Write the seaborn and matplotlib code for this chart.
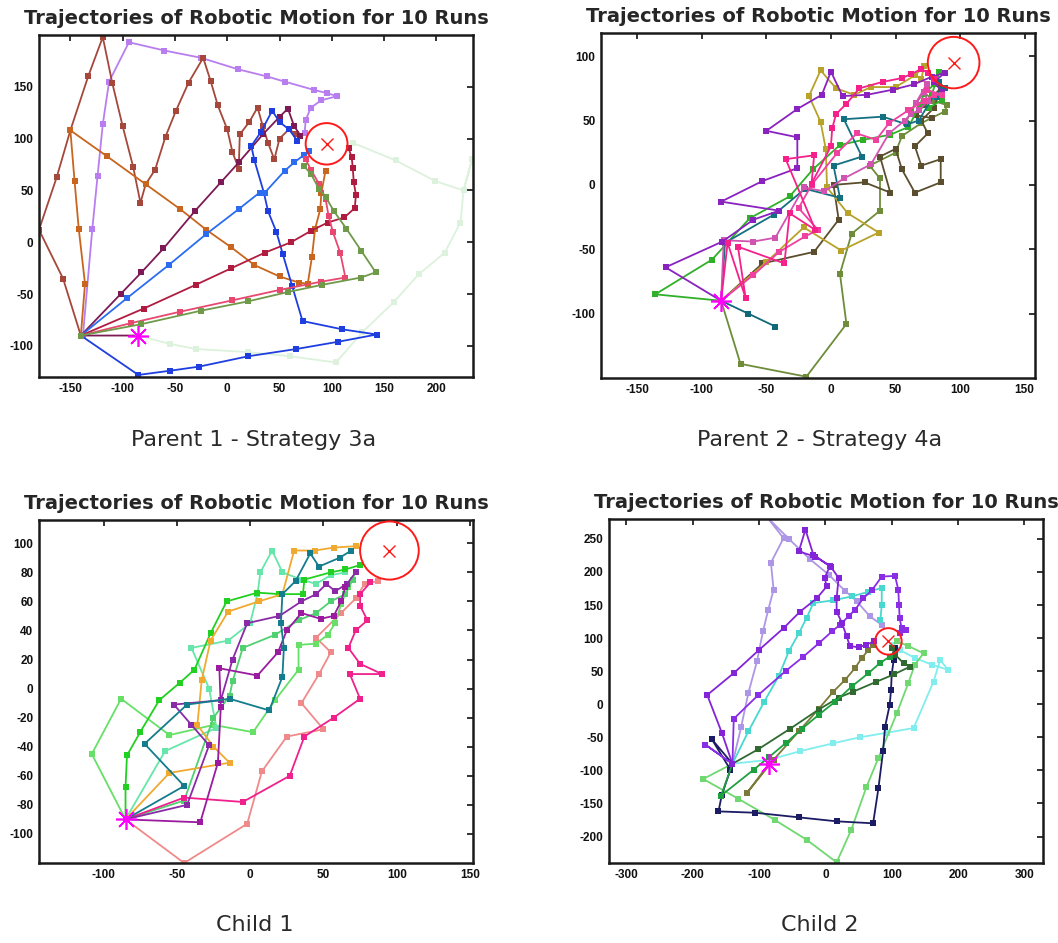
import pandas as pd
import seaborn as sns
import matplotlib.pyplot as plt
from matplotlib.patches import Circle

# ---------------- data ----------------
START = (-85, -90)
GOAL = (95, 95)
GOAL_R = 20

# Parent 1 - Strategy 3a
p1_lavender = [(-138, -90), (-129, 13), (-124, 64), (-119, 114), (-113, 155), (-94, 193), (-60, 185),
               (-25, 178), (10, 167), (38, 160), (55, 155), (83, 147), (95, 144), (105, 141), (90, 137),
               (80, 130), (75, 118), (74, 105)]
p1_brown = [(-140, -90), (-157, -35), (-180, 12), (-163, 63), (-150, 108), (-133, 160), (-119, 198),
            (-110, 154), (-100, 112), (-90, 73), (-83, 38), (-78, 56), (-69, 70), (-59, 102), (-49, 127),
            (-37, 154), (-23, 178), (-16, 156), (-9, 132), (0, 109), (5, 87), (11, 71), (12, 104),
            (21, 116), (29, 130), (34, 112), (39, 96), (45, 80), (50, 100), (59, 109), (66, 104)]
p1_orange = [(-140, -90), (-136, -40), (-142, 13), (-146, 59), (-150, 108), (-115, 83), (-78, 56),
             (-45, 32), (-20, 12), (4, -5), (26, -22), (50, -33), (69, -39), (77, -40), (81, -14),
             (84, 13), (89, 32), (90, 48), (94, 69)]
p1_maroon = [(-85, -90), (-140, -90), (-102, -50), (-82, -29), (-61, -6), (-31, 30), (-6, 58), (11, 77),
             (34, 104), (50, 121), (58, 129), (64, 112), (70, 103)]
p1_blue1 = [(-140, -90), (-96, -54), (-56, -22), (-20, 8), (11, 32), (31, 48), (36, 48), (55, 69),
            (64, 77), (73, 84), (78, 88)]
p1_blue2 = [(-140, -90), (-85, -128), (-55, -124), (-27, -120), (20, -110), (66, -103), (106, -96),
            (143, -89), (110, -84), (72, -76), (62, -42), (53, -11), (47, 10), (39, 30), (35, 48),
            (26, 79), (23, 93), (32, 106), (43, 127), (50, 116), (59, 109), (67, 98)]
p1_crimson = [(-140, -90), (-80, -64), (-30, -41), (4, -25), (36, -10), (61, 0), (80, 11), (96, 19),
              (112, 24), (122, 33), (123, 46), (121, 58), (120, 72), (119, 82), (116, 91)]
p1_pink = [(-140, -90), (-92, -78), (-45, -67), (5, -56), (50, -46), (90, -38), (113, -34), (108, -10),
           (101, 10), (97, 25), (94, 42), (88, 56), (80, 70), (75, 80)]
p1_olive = [(-140, -90), (-82, -79), (-25, -66), (20, -57), (58, -48), (91, -41), (128, -34), (142, -29),
            (128, -8), (114, 13), (102, 30), (94, 44), (88, 51), (80, 66), (73, 74)]
p1_pale = [(-85, -90), (-55, -98), (-30, -103), (20, -106), (60, -110), (104, -116), (129, -87),
           (159, -58), (183, -31), (208, -10), (223, 19), (226, 50), (234, 80), (226, 50), (199, 59),
           (161, 79), (120, 96)]
p1_runs = [p1_lavender, p1_brown, p1_orange, p1_maroon, p1_pale, p1_blue2, p1_blue1,
           p1_crimson, p1_pink, p1_olive]
p1_colors = ["#b87ef0", "#a5473a", "#c8651e", "#7d1a55", "#dcf2dc", "#1e3ee0", "#2b6cf0",
             "#b01c40", "#e84870", "#6e9a4a"]

# Parent 2 - Strategy 4a
p2_purple = [(-85, -90), (-128, -64), (-84, -44), (-60, -27), (-40, -20), (-85, -13), (-53, 3), (-26, 13),
             (-26, 37), (-50, 42), (-26, 59), (-7, 70), (0, 88), (9, 69), (28, 70), (48, 74), (64, 78),
             (78, 84), (88, 87), (80, 80), (86, 72)]
p2_green = [(-85, -90), (-136, -85), (-92, -58), (-63, -26), (-32, -9), (-14, 12), (7, 31), (25, 35),
            (46, 39), (60, 45), (69, 62), (72, 71), (80, 78), (84, 88), (78, 70), (86, 66), (76, 60)]
p2_teal_spur = [(-85, -90), (-64, -100), (-43, -110)]
p2_teal = [(-85, -90), (-82, -45), (-44, -23), (-20, -3), (7, -10), (2, 15), (24, 22), (10, 51), (40, 53),
           (59, 47), (68, 50), (80, 70), (86, 74), (82, 68), (88, 75), (84, 80)]
p2_hotpink = [(-85, -90), (-80, -45), (-66, -88), (-72, -48), (-36, -61), (-32, -22), (-12, -35),
              (-35, 20), (-13, 23), (-15, 1), (0, 30), (1, 44), (4, 55), (12, 63), (22, 75), (40, 80),
              (55, 83), (62, 86), (70, 90), (75, 87), (80, 82)]
p2_mauve = [(-85, -90), (-83, -43), (-60, -44), (-43, -41), (-21, -2), (-5, -5), (10, 5), (31, 16),
            (45, 40), (57, 50), (62, 55), (68, 58), (75, 65), (72, 72), (66, 64), (74, 78)]
p2_oliveyellow = [(-85, -90), (-50, -60), (-21, -33), (8, -51), (37, -37), (13, -22), (-3, -2),
                  (-4, 28), (-8, 49), (-17, 69), (-8, 89), (4, 75), (18, 70), (31, 76), (50, 76),
                  (65, 85), (72, 92), (70, 82)]
p2_darkolive = [(-85, -90), (-53, -61), (-13, -52), (6, -27), (2, 0), (26, 2), (46, -6), (38, 22),
                (50, 28), (55, 12), (65, -6), (85, 2), (85, 20), (70, 15), (65, 30), (75, 40), (70, 50),
                (80, 60), (85, 75), (72, 62), (66, 54), (78, 52)]
p2_olivegreen = [(-85, -90), (-70, -139), (-19, -149), (12, -108), (7, -69), (16, -38), (38, -20),
                 (38, 5), (30, 15), (50, 25), (55, 38), (70, 48), (88, 57), (90, 62), (80, 65), (72, 72),
                 (62, 58), (58, 48)]
p2_pink = [(-85, -90), (-60, -70), (-40, -52), (-20, -40), (-10, -35), (-25, -18), (-15, 0), (5, 25),
           (20, 40), (35, 35), (45, 48), (60, 58), (72, 65), (80, 70), (86, 70), (74, 74)]
p2_runs = [p2_olivegreen, p2_darkolive, p2_oliveyellow, p2_green, p2_teal_spur, p2_teal, p2_mauve,
           p2_purple, p2_pink, p2_hotpink]
p2_colors = ["#6e8c3a", "#5a4e2e", "#b8a22a", "#30b028", "#106878", "#127080", "#d054b0",
             "#8a22c0", "#f040a0", "#f5208a"]

# Child 1
p3_green = [(-85, -90), (-85, -68), (-84, -46), (-75, -30), (-62, -8), (-48, 4), (-38, 13), (-27, 38),
            (-16, 60), (5, 66), (20, 65), (36, 65), (37, 75), (55, 80), (65, 82), (75, 85)]
p3_orange = [(-85, -90), (-55, -58), (-14, -51), (-25, -40), (-36, -25), (-33, 6), (-27, 33), (-15, 53),
             (6, 60), (22, 65), (30, 95), (44, 95), (57, 97), (72, 98)]
p3_teal = [(-85, -90), (-45, -67), (-72, -38), (-43, -11), (-14, -7), (13, -15), (22, 8), (23, 28),
           (21, 45), (22, 65), (31, 74), (41, 93), (47, 84), (61, 90), (69, 95)]
p3_purple1 = [(-85, -90), (-34, -92), (-22, -51), (-20, -13), (-21, 14), (5, 9), (19, 25), (25, 40),
              (35, 52), (48, 48), (57, 50), (62, 60), (65, 70)]
p3_purple2 = [(-85, -90), (-43, -80), (-28, -39), (-40, -25), (-52, -11), (-20, -8), (-12, 20),
              (-2, 45), (20, 50), (35, 60), (45, 65), (52, 72), (58, 67), (66, 72), (72, 80)]
p3_pink = [(-85, -90), (-45, -75), (-5, -78), (27, -60), (37, -33), (57, -20), (75, -7), (68, 10),
           (90, 10), (75, 17), (67, 28), (72, 40), (80, 47), (75, 57), (75, 65), (82, 73)]
p3_salmon = [(-85, -90), (-45, -120), (-2, -93), (8, -57), (25, -33), (50, -28), (35, -10), (47, 10),
             (55, 25), (45, 35), (62, 52), (72, 62), (78, 72), (87, 74)]
p3_lightgreen = [(-85, -90), (-108, -45), (-88, -7), (-55, -32), (-25, -25), (2, -30), (17, -8),
                 (33, 13), (33, 30), (45, 31), (53, 37), (58, 45), (62, 58), (67, 70), (72, 80)]
p3_aqua = [(-85, -90), (-58, -43), (-23, -27), (-28, 0), (-40, 28), (-15, 33), (0, 45), (5, 65),
           (7, 80), (15, 95), (22, 80), (35, 75), (45, 72), (55, 78), (65, 80)]
p3_medgreen = [(-85, -90), (-45, -77), (-25, -20), (-14, -5), (-12, 5), (-5, 28), (17, 37), (33, 47),
               (45, 52), (55, 60), (65, 65), (70, 75)]
p3_runs = [p3_salmon, p3_lightgreen, p3_aqua, p3_medgreen, p3_green, p3_orange, p3_pink,
           p3_purple2, p3_purple1, p3_teal]
p3_colors = ["#f08a8a", "#66e066", "#66e6a8", "#50d070", "#22d022", "#f0aa30", "#f0208c",
             "#8a2aa8", "#9a1aa0", "#147c8c"]

# Child 2
p4_lavender = [(-140, -90), (-127, -35), (-116, 17), (-103, 65), (-94, 110), (-86, 143), (-78, 173),
               (-82, 214), (-63, 251), (-88, 283), (-55, 250), (-23, 219), (5, 196), (30, 171), (47, 156),
               (67, 133), (85, 120)]
p4_purple_a = [(-140, -90), (-156, -43), (-178, 14), (-138, 47), (-100, 82), (-63, 115), (-38, 140),
               (-13, 160), (2, 178), (-1, 191), (7, 209), (-15, 223), (-40, 231), (-30, 264), (-18, 226),
               (8, 208), (20, 191), (17, 160), (17, 140), (25, 123), (32, 103), (37, 88), (50, 86),
               (62, 90), (73, 95)]
p4_purple_b = [(-140, -90), (-181, -61), (-140, -90), (-138, -22), (-101, 14), (-60, 50), (-33, 72),
               (-10, 92), (10, 110), (22, 120), (35, 133), (45, 143), (57, 160), (70, 172), (85, 193),
               (105, 194), (110, 173), (111, 150), (112, 130), (115, 115), (122, 112), (112, 108)]
p4_turq_a = [(-140, -90), (-116, -41), (-92, 4), (-70, 43), (-55, 80), (-40, 107), (-28, 131),
             (-18, 153), (12, 157), (40, 163), (65, 170), (85, 176), (85, 150), (83, 128)]
p4_turq_b = [(-140, -90), (-85, -84), (-38, -71), (12, -59), (52, -50), (93, -43), (133, -36),
             (163, 34), (173, 67), (185, 52), (160, 60), (135, 70), (112, 82), (100, 90)]
p4_navy = [(-140, -90), (-171, -53), (-143, -99), (-156, -137), (-161, -162), (-106, -164),
           (-40, -171), (17, -177), (72, -180), (80, -127), (87, -71), (90, -34), (97, -1), (99, 22),
           (100, 45), (103, 67), (105, 85)]
p4_lightgreen = [(-140, -90), (-184, -113), (-131, -143), (-76, -175), (-28, -205), (17, -239),
                 (39, -190), (62, -125), (80, -81), (108, -13), (125, 32), (135, 60), (148, 77),
                 (125, 88), (108, 95)]
p4_green = [(-140, -90), (-157, -138), (-108, -99), (-85, -80), (-60, -59), (-35, -37), (-10, -16),
            (15, 4), (40, 27), (65, 47), (82, 62), (97, 72)]
p4_darkgreen = [(-140, -90), (-101, -68), (-53, -37), (-10, -8), (20, 10), (42, 19), (77, 34),
                (103, 45), (128, 57), (118, 62), (105, 75), (100, 85)]
p4_olive = [(-85, -90), (-118, -134), (-78, -84), (-40, -41), (-10, -7), (12, 19), (30, 37), (45, 55),
            (55, 70), (65, 82), (72, 90)]
p4_runs = [p4_lavender, p4_turq_b, p4_turq_a, p4_lightgreen, p4_navy, p4_olive, p4_darkgreen,
           p4_green, p4_purple_b, p4_purple_a]
p4_colors = ["#ae96e6", "#80eeee", "#48d8d0", "#70d870", "#1c1c64", "#7a7a3a", "#306a30",
             "#1fa040", "#8a2ee6", "#8424d8"]

TITLE = "Trajectories of Robotic Motion for 10 Runs"
captions = ["Parent 1 - Strategy 3a", "Parent 2 - Strategy 4a", "Child 1", "Child 2"]


def runs_frame(runs):
    rows = []
    for i, pts in enumerate(runs):
        for x, y in pts:
            rows.append({"run": f"r{i}", "x": x, "y": y})
    return pd.DataFrame(rows)


def draw_panel(ax, runs, colors, xlim, ylim, xticks, yticks):
    df = runs_frame(runs)
    pal = {f"r{i}": c for i, c in enumerate(colors)}
    sns.lineplot(data=df, x="x", y="y", hue="run", palette=pal, sort=False, estimator=None,
                 marker="s", markersize=4.2, markeredgewidth=0, linewidth=1.3, legend=False, ax=ax)
    ax.add_patch(Circle(GOAL, GOAL_R, fill=False, edgecolor="#ff1a1a", linewidth=1.4, clip_on=False, zorder=5))
    ax.plot(*GOAL, marker="x", color="#ff1a1a", markersize=9, mew=1.0, zorder=6)
    ax.plot(*START, marker=(8, 2, 0), color="#ff00ff", markersize=15, mew=1.2, zorder=7, clip_on=False)
    ax.set_xlim(*xlim)
    ax.set_ylim(*ylim)
    ax.set_xticks(xticks)
    ax.set_yticks(yticks)
    ax.set_xlabel("")
    ax.set_ylabel("")
    ax.set_title(TITLE, fontsize=14, fontweight="bold", pad=8, family="DejaVu Sans")
    ax.tick_params(direction="in", top=True, right=True, length=4, width=1.2, labelsize=8.5, pad=4,
                   colors="#111111")
    for lab in ax.get_xticklabels() + ax.get_yticklabels():
        lab.set_fontweight("bold")
    for sp in ax.spines.values():
        sp.set_linewidth(1.8)
        sp.set_color("#1a1a1a")


sns.set_theme(style="white")
plt.rcParams["font.family"] = ["Liberation Sans", "DejaVu Sans"]
plt.rcParams["axes.unicode_minus"] = False

fig = plt.figure(figsize=(10.58, 9.43), dpi=100)
W, H = 1058, 943
boxes = [(39, 35, 473, 377), (601, 33, 1035, 378), (39, 520, 473, 863), (609, 519, 1043, 863)]
axes = [fig.add_axes([l / W, 1 - b / H, (r - l) / W, (b - t) / H]) for l, t, r, b in boxes]

draw_panel(axes[0], p1_runs, p1_colors, (-180, 235), (-130, 200),
           range(-150, 201, 50), range(-100, 151, 50))
draw_panel(axes[1], p2_runs, p2_colors, (-178, 158), (-150, 118),
           range(-150, 151, 50), range(-100, 101, 50))
draw_panel(axes[2], p3_runs, p3_colors, (-144, 152), (-120, 116),
           range(-100, 151, 50), range(-100, 101, 20))
draw_panel(axes[3], p4_runs, p4_colors, (-326, 328), (-240, 280),
           range(-300, 301, 100), range(-200, 251, 50))

cap_pos = [(254, 440), (820, 440), (255, 925), (820, 925)]
for (cx, cy), txt in zip(cap_pos, captions):
    fig.text(cx / W, 1 - cy / H, txt, ha="center", va="center", fontsize=16, color="#2a2a2a",
             family="DejaVu Sans")

fig.savefig("out.png", dpi=100)
